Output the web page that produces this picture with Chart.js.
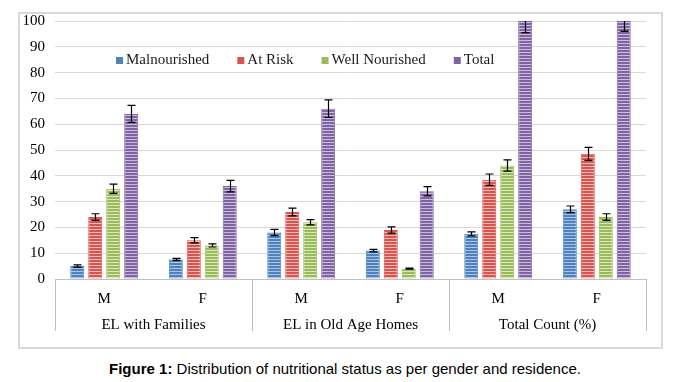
<!DOCTYPE html>
<html>
<head>
<meta charset="utf-8">
<script src="https://cdn.jsdelivr.net/npm/chart.js@4"></script>
<style>
  body { margin: 0; background: #fff; width: 678px; height: 382px; position: relative; overflow: hidden; }
  #box { position: absolute; left: 18px; top: 12px; width: 641px; height: 333px; border: 2px solid #d9d9d9; }
  #box canvas { display: block; }
  #caption { position: absolute; left: 6px; top: 360px; width: 678px; text-align: center;
    font-family: 'Liberation Sans', Arial, sans-serif; font-size: 15px; color: #000; }
</style>
</head>
<body>
<div id="box"><canvas id="chart" width="641" height="333"></canvas></div>
<div id="caption"><b>Figure 1:</b> Distribution of nutritional status as per gender and residence.</div>
<script>
// categories
const genders = ['M', 'F', 'M', 'F', 'M', 'F'];
const groups = ['EL with Families', 'EL in Old Age Homes', 'Total Count (%)'];

// series values
const malnourished = [5, 7.6, 18, 11, 17.5, 27];
const atRisk = [24, 15, 26, 19, 38.5, 48.5];
const wellNourished = [35, 13, 22, 4, 44, 24];
const total = [64, 36, 66, 34, 100, 100];

// error bar half-widths
const malnourishedErr = [0.5, 0.4, 1.2, 0.5, 0.8, 1.3];
const atRiskErr = [1.3, 1, 1.5, 1.2, 2.2, 2.5];
const wellNourishedErr = [1.8, 0.6, 1, 0.2, 2.2, 1.3];
const totalErr = [3.3, 2.2, 3.4, 1.8, 4.5, 4];

const yTicks = [0, 10, 20, 30, 40, 50, 60, 70, 80, 90, 100];

const serif = '"Liberation Serif", "Times New Roman", serif';

// striped fill like the original picture
function stripes(dark, light) {
    const c = document.createElement('canvas');
    c.width = 4;
    c.height = 3;
    const g = c.getContext('2d');
    g.fillStyle = dark;
    g.fillRect(0, 0, 4, 3);
    g.fillStyle = light;
    g.fillRect(0, 2, 4, 1);
    return g.createPattern(c, 'repeat');
}

const ctx = document.getElementById('chart').getContext('2d');

// error bars drawn on top of each bar
const errorBars = {
    id: 'errorBars',
    afterDatasetsDraw(chart) {
        const y = chart.scales.y;
        const area = chart.chartArea;
        const c = chart.ctx;
        c.save();
        c.beginPath();
        c.rect(area.left, area.top, area.right - area.left, area.bottom - area.top);
        c.clip();
        c.strokeStyle = '#000';
        c.lineWidth = 1.2;
        chart.data.datasets.forEach((ds, i) => {
            const meta = chart.getDatasetMeta(i);
            meta.data.forEach((bar, j) => {
                const v = ds.data[j];
                const e = ds.errors[j];
                const top = y.getPixelForValue(v + e);
                const bot = y.getPixelForValue(v - e);
                const x = Math.round(bar.x) + 0.5;
                c.beginPath();
                c.moveTo(x, top);
                c.lineTo(x, bot);
                c.moveTo(x - 4, top);
                c.lineTo(x + 4, top);
                c.moveTo(x - 4, bot);
                c.lineTo(x + 4, bot);
                c.stroke();
            });
        });
        c.restore();
    }
};

// vertical separators between residence groups, across both label rows
const separators = {
    id: 'separators',
    afterDraw(chart) {
        const x = chart.scales.x;
        const x2 = chart.scales.x2;
        const c = chart.ctx;
        c.save();
        c.strokeStyle = '#bfbfbf';
        c.lineWidth = 1;
        for (let i = 0; i <= groups.length; i++) {
            const px = Math.round(x.left + i * (x.right - x.left) / groups.length) + 0.5;
            c.beginPath();
            c.moveTo(px, x.top);
            c.lineTo(px, x2.bottom - 4);
            c.stroke();
        }
        c.restore();
    }
};

// legend inside the plot, as in the original
const innerLegend = {
    id: 'innerLegend',
    afterDraw(chart) {
        const area = chart.chartArea;
        const c = chart.ctx;
        c.save();
        c.font = '15px ' + serif;
        c.textBaseline = 'middle';
        c.textAlign = 'left';
        let px = area.left + 61;
        const py = area.top + 39;
        chart.data.datasets.forEach(ds => {
            c.fillStyle = ds.legendColor;
            c.fillRect(px, py - 3, 7, 7);
            c.fillStyle = '#1a1a1a';
            c.fillText(ds.label, px + 10, py);
            px += 10 + c.measureText(ds.label).width + 28;
        });
        c.restore();
    }
};

function makeSet(label, data, errors, dark, light) {
    return {
        label: label,
        data: data,
        errors: errors,
        legendColor: dark,
        backgroundColor: stripes(dark, light),
        borderColor: dark,
        borderWidth: 1,
        categoryPercentage: 0.73,
        barPercentage: 0.78
    };
}

new Chart(ctx, {
    type: 'bar',
    data: {
        labels: genders,
        datasets: [
            makeSet('Malnourished', malnourished, malnourishedErr, '#4f81bd', '#a9c4e8'),
            makeSet('At Risk', atRisk, atRiskErr, '#d9534f', '#f4bcbb'),
            makeSet('Well Nourished', wellNourished, wellNourishedErr, '#9bbb59', '#d9e9bf'),
            makeSet('Total', total, totalErr, '#8064a2', '#cbbde0')
        ]
    },
    options: {
        responsive: false,
        animation: false,
        layout: { padding: { top: 7, right: 15, bottom: 12, left: 0 } },
        plugins: {
            legend: { display: false },
            tooltip: { enabled: false }
        },
        scales: {
            x: {
                grid: { display: false },
                border: { display: true, color: '#bfbfbf' },
                ticks: { color: '#000', font: { family: serif, size: 15 }, padding: 3 },
                afterFit(scale) { scale.height = 25; }
            },
            x2: {
                type: 'category',
                labels: groups,
                position: 'bottom',
                grid: { display: false },
                border: { display: false },
                ticks: { color: '#000', font: { family: serif, size: 15 }, padding: 4 },
                afterFit(scale) { scale.height = 31; }
            },
            y: {
                min: 0,
                max: 100,
                afterBuildTicks(scale) { scale.ticks = yTicks.map(v => ({ value: v })); },
                grid: { color: '#d9d9d9', drawTicks: false },
                border: { display: false },
                ticks: { color: '#000', font: { family: serif, size: 15 }, padding: 10 },
                afterFit(scale) {
                    scale.width = 35;
                    scale.paddingTop = 0;
                    scale.paddingBottom = 0;
                }
            }
        }
    },
    plugins: [errorBars, separators, innerLegend]
});
</script>
</body>
</html>
